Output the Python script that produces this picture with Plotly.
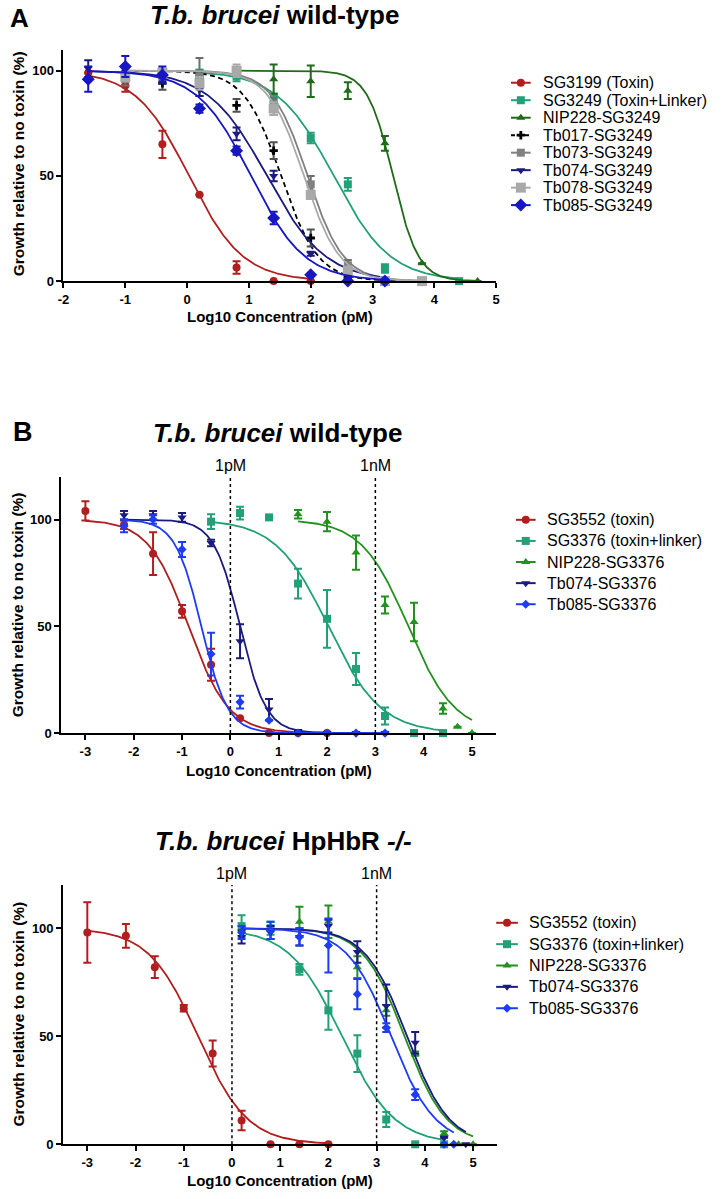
import numpy as np
import plotly.graph_objects as go

W, H = 728, 1199
FONT = "Liberation Sans, Arial, sans-serif"

# ---------------- Panel A : T.b. brucei wild-type (SG3249 series) ----------------
a_names = ["SG3199 (Toxin)", "SG3249 (Toxin+Linker)", "NIP228-SG3249", "Tb017-SG3249",
           "Tb073-SG3249", "Tb074-SG3249", "Tb078-SG3249", "Tb085-SG3249"]
a_sg3199_x = [-1.6, -1.0, -0.4, 0.2, 0.8, 1.4, 2.0]
a_sg3199_y = [99, 93, 65, 41, 6.5, 0, 0]
a_sg3199_e = [0, 3, 6.5, 0, 3, 0, 0]
a_sg3249_x = [0.2, 0.8, 1.4, 2.0, 2.6, 3.2, 3.8, 4.4]
a_sg3249_y = [99, 97.5, 87, 68, 46, 6, 0, 0]
a_sg3249_e = [1.5, 2.5, 2, 2.5, 3, 2, 0, 0]
a_nip228_x = [0.8, 1.4, 2.0, 2.6, 3.2, 3.8, 4.7]
a_nip228_y = [99, 96, 95, 90.5, 65.5, 8.5, 0]
a_nip228_e = [1, 7, 7.5, 4, 3.5, 0, 0]
a_tb017_x = [-1.0, -0.4, 0.2, 0.8, 1.4, 2.0, 2.6, 3.2, 3.8]
a_tb017_y = [97, 94, 96, 83.5, 62, 20.5, 2.5, 0, 0]
a_tb017_e = [2, 3, 3, 3, 4, 4, 1, 0, 0]
a_tb073_x = [-1.0, -0.4, 0.2, 0.8, 1.4, 2.0, 2.6, 3.2, 3.8]
a_tb073_y = [96, 98, 97, 99.5, 83, 46, 7.5, 0, 0]
a_tb073_e = [3, 2, 9, 2, 4, 4, 2.5, 0, 0]
a_tb074_x = [-1.6, -1.0, -0.4, 0.2, 0.8, 1.4, 2.0, 2.6, 3.2]
a_tb074_y = [101, 98, 97, 91, 70, 50, 13, 1, 0]
a_tb074_e = [4, 2, 2, 3, 3, 2.5, 1, 0, 0]
a_tb078_x = [-1.0, -0.4, 0.2, 0.8, 1.4, 2.0, 2.6, 3.2, 3.8]
a_tb078_y = [97, 99, 94, 100, 82, 41, 5, 0, 0]
a_tb078_e = [2, 2, 3, 3, 3, 2, 1.5, 0, 0]
a_tb085_x = [-1.6, -1.0, -0.4, 0.2, 0.8, 1.4, 2.0, 2.6, 3.2]
a_tb085_y = [96, 102, 98, 82, 62, 30, 3, 0, 0]
a_tb085_e = [6, 5, 4, 2, 2, 3, 0, 0, 0]
a_logec50 = [0.03, 2.37, 3.33, 1.52, 1.95, 1.29, 1.89, 1.03]
a_hill = [1.0, 0.95, 2.1, 1.45, 1.5, 0.92, 1.5, 1.0]

# ---------------- Panel B : T.b. brucei wild-type (SG3376 series) ----------------
b_names = ["SG3552 (toxin)", "SG3376 (toxin+linker)", "NIP228-SG3376",
           "Tb074-SG3376", "Tb085-SG3376"]
b_sg3552_x = [-3.0, -2.2, -1.6, -1.0, -0.4, 0.2, 0.8, 1.4, 2.0]
b_sg3552_y = [104, 97.5, 84, 57, 32, 7, 0, 0, 0]
b_sg3552_e = [4.5, 2, 10, 3, 7.5, 0, 0, 0, 0]
b_sg3376_x = [-0.4, 0.2, 0.8, 1.4, 2.0, 2.6, 3.2, 3.8, 4.4]
b_sg3376_y = [99, 103, 101, 70, 53.5, 30, 8, 0, 0]
b_sg3376_e = [3.5, 3, 0, 7, 13.5, 7.5, 4, 0, 0]
b_nip228_x = [1.4, 2.0, 2.6, 3.2, 3.8, 4.4, 4.7, 5.0]
b_nip228_y = [102.5, 99, 84.5, 60, 52, 11.5, 3, 0]
b_nip228_e = [2, 4.5, 8, 4, 9, 2.5, 0, 0]
b_tb074_x = [-2.2, -1.6, -1.0, -0.4, 0.2, 0.8, 1.4, 2.0, 2.6, 3.2]
b_tb074_y = [102, 102, 101, 89, 43, 11, 1, 0, 0, 0]
b_tb074_e = [2, 2, 2, 1.5, 8, 5, 0, 0, 0, 0]
b_tb085_x = [-2.2, -1.6, -1.0, -0.4, 0.2, 0.8, 1.4, 2.0, 2.6, 3.2]
b_tb085_y = [97, 100, 86, 37, 14.5, 6, 0, 0, 0, 0]
b_tb085_e = [3, 2, 3.5, 10, 3, 0, 0, 0, 0, 0]
b_logec50 = [-0.867, 2.025, 3.68, 0.2, -0.6]
b_hill = [1.05, 0.8, 0.9, 1.6, 1.6]

# ---------------- Panel C : T.b. brucei HpHbR -/- ----------------
c_names = b_names
c_sg3552_x = [-3.0, -2.2, -1.6, -1.0, -0.4, 0.2, 0.8, 1.4, 2.0]
c_sg3552_y = [98, 96.5, 82, 63, 42, 11, 0, 0, 0]
c_sg3552_e = [14, 5.5, 5, 1.5, 6, 4.5, 0, 0, 0]
c_sg3376_x = [0.2, 0.8, 1.4, 2.0, 2.6, 3.2, 3.8, 4.4]
c_sg3376_y = [101, 100, 81, 62, 42, 11.5, 0, 0]
c_sg3376_e = [5, 3, 2.5, 9, 8.5, 3.5, 0, 0]
c_nip228_x = [1.4, 2.0, 2.6, 3.2, 3.8, 4.4, 4.7, 5.0]
c_nip228_y = [103, 103, 82, 62, 42, 5, 0, 0]
c_nip228_e = [7, 7.5, 5, 2.5, 1, 1, 0, 0]
c_tb074_x = [0.2, 0.8, 1.4, 2.0, 2.6, 3.2, 3.8, 4.4, 4.85]
c_tb074_y = [96, 98, 96, 101, 89, 64, 47, 3, 0]
c_tb074_e = [3, 3, 4, 3, 5, 10, 5, 0, 0]
c_tb085_x = [0.2, 0.8, 1.4, 2.0, 2.6, 3.2, 3.8, 4.4, 4.6]
c_tb085_y = [98, 99, 96, 92, 69.5, 54, 23, 0, 0]
c_tb085_e = [3, 4, 4, 12.5, 7, 2, 2.5, 0, 0]
c_logec50 = [-0.706, 2.28, 3.58, 3.63, 3.3]
c_hill = [0.85, 0.8, 1.0, 1.0, 0.95]

x_ticks_a = [-2, -1, 0, 1, 2, 3, 4, 5]
x_ticks_bc = [-3, -2, -1, 0, 1, 2, 3, 4, 5]
y_ticks = [0, 50, 100]
ref_lines = [0, 3]
ref_labels = ["1pM", "1nM"]

# ---------------- styles ----------------
RED, TEAL, DKGREEN, GREEN = "#B01E1E", "#22A077", "#1F6B1A", "#23901F"
NAVY, BLUE_A, BLUE_B = "#1A1A80", "#1616C4", "#1E3CF5"
a_styles = [
    dict(color=RED, symbol="circle", size=8, ecolor=RED),
    dict(color=TEAL, symbol="square", size=8, ecolor=TEAL),
    dict(color=DKGREEN, symbol="triangle-up", size=8, ecolor=DKGREEN),
    dict(color="#000000", symbol="cross", size=7, ecolor="#505050", dash="5px,3.5px"),
    dict(color="#808080", symbol="square", size=8, ecolor="#6E6E6E"),
    dict(color=NAVY, symbol="triangle-down", size=8, ecolor=NAVY),
    dict(color="#A9A9A9", symbol="square", size=10, ecolor="#A9A9A9"),
    dict(color=BLUE_A, symbol="diamond", size=10, ecolor=BLUE_A),
]
bc_styles = [
    dict(color=RED, symbol="circle", size=8, ecolor=RED),
    dict(color=TEAL, symbol="square", size=8, ecolor=TEAL),
    dict(color=GREEN, symbol="triangle-up", size=8, ecolor=GREEN),
    dict(color=NAVY, symbol="triangle-down", size=8, ecolor=NAVY),
    dict(color=BLUE_B, symbol="diamond", size=7, ecolor=BLUE_B),
]

fig = go.Figure()


def add_panel(xa, ya, series, styles, ec50s, hills):
    for (x, y, e), st, c50, h in zip(series, styles, ec50s, hills):
        cx = np.linspace(min(x), max(x), 300)
        cy = 100.0 / (1.0 + 10.0 ** ((cx - c50) * h))
        fig.add_trace(go.Scatter(
            x=cx, y=cy, mode="lines", xaxis=xa, yaxis=ya, showlegend=False,
            hoverinfo="skip", cliponaxis=False,
            line=dict(color=st["color"], width=1.8, dash=st.get("dash", "solid"))))
        fig.add_trace(go.Scatter(
            x=x, y=y, mode="markers", xaxis=xa, yaxis=ya, showlegend=False,
            cliponaxis=False,
            marker=dict(symbol=st["symbol"], size=st["size"], color=st["color"],
                        line=dict(width=0)),
            error_y=dict(type="data", array=[v if v > 0 else None for v in e],
                         visible=True, thickness=2, width=4, color=st["ecolor"])))


add_panel("x", "y", [
    (a_sg3199_x, a_sg3199_y, a_sg3199_e), (a_sg3249_x, a_sg3249_y, a_sg3249_e),
    (a_nip228_x, a_nip228_y, a_nip228_e), (a_tb017_x, a_tb017_y, a_tb017_e),
    (a_tb073_x, a_tb073_y, a_tb073_e), (a_tb074_x, a_tb074_y, a_tb074_e),
    (a_tb078_x, a_tb078_y, a_tb078_e), (a_tb085_x, a_tb085_y, a_tb085_e)],
    a_styles, a_logec50, a_hill)
add_panel("x2", "y2", [
    (b_sg3552_x, b_sg3552_y, b_sg3552_e), (b_sg3376_x, b_sg3376_y, b_sg3376_e),
    (b_nip228_x, b_nip228_y, b_nip228_e), (b_tb074_x, b_tb074_y, b_tb074_e),
    (b_tb085_x, b_tb085_y, b_tb085_e)],
    bc_styles, b_logec50, b_hill)
add_panel("x3", "y3", [
    (c_sg3552_x, c_sg3552_y, c_sg3552_e), (c_sg3376_x, c_sg3376_y, c_sg3376_e),
    (c_nip228_x, c_nip228_y, c_nip228_e), (c_tb074_x, c_tb074_y, c_tb074_e),
    (c_tb085_x, c_tb085_y, c_tb085_e)],
    bc_styles, c_logec50, c_hill)

annotations = []


def px(xp):
    return xp / W


def py(yp):
    return 1 - yp / H


# ---- legends (keys drawn on a hidden pixel-space overlay axis) ----
def add_legend(names, styles, key_x0, key_x1, text_x, row0, step, fsize):
    for i, (name, st) in enumerate(zip(names, styles)):
        yrow = row0 + i * step
        fig.add_trace(go.Scatter(
            x=[key_x0, key_x1], y=[yrow, yrow], mode="lines", xaxis="x4", yaxis="y4",
            showlegend=False, hoverinfo="skip", cliponaxis=False,
            line=dict(color=st["color"], width=2,
                      dash="4px,3px" if st.get("dash") else "solid")))
        fig.add_trace(go.Scatter(
            x=[(key_x0 + key_x1) / 2], y=[yrow], mode="markers", xaxis="x4", yaxis="y4",
            showlegend=False, hoverinfo="skip", cliponaxis=False,
            marker=dict(symbol=st["symbol"], size=st["size"], color=st["color"],
                        line=dict(width=0))))
        annotations.append(dict(
            x=px(text_x), y=py(yrow), xref="paper", yref="paper", text=name,
            showarrow=False, xanchor="left", yanchor="middle",
            font=dict(family=FONT, size=fsize, color="black")))


add_legend(a_names, a_styles, 512, 532, 542, 83.3, 17.6, 16)
add_legend(b_names, bc_styles, 517, 537, 547, 523.3, 21.25, 16)
add_legend(c_names, bc_styles, 497, 519, 528, 929, 21.5, 16)

# ---- panel letters, titles, axis titles ----
annotations += [
    dict(x=px(14), y=py(18), text="<b>A</b>", font=dict(size=26)),
    dict(x=px(17.5), y=py(435), text="<b>B</b>", font=dict(size=27)),
    dict(x=px(144), y=py(15), xanchor="left",
         text="<b><i>T.b. brucei</i> wild-type</b>", font=dict(size=26)),
    dict(x=px(147), y=py(436), xanchor="left",
         text="<b><i>T.b. brucei</i> wild-type</b>", font=dict(size=26)),
    dict(x=px(149), y=py(847), xanchor="left",
         text="<b><i>T.b. brucei</i> HpHbR <i>-/-</i></b>", font=dict(size=26)),
]
for xc, yc in [(13.5, 165), (12.5, 609), (12.5, 1021)]:
    annotations.append(dict(x=px(xc), y=py(yc), text="<b>Growth relative to no toxin (%)</b>",
                            textangle=-90, font=dict(size=15.5)))
for xc, yc in [(277.6, 319), (276.5, 776), (278, 1188)]:
    annotations.append(dict(x=px(xc), y=py(yc), text="<b>Log10 Concentration (pM)</b>",
                            font=dict(size=15)))

for a in annotations:
    a.setdefault("xref", "paper")
    a.setdefault("yref", "paper")
    a.setdefault("showarrow", False)
    a.setdefault("xanchor", "center")
    a.setdefault("yanchor", "middle")
    f = a.setdefault("font", {})
    f.setdefault("family", FONT)
    f.setdefault("color", "black")

# reference lines (1 pM, 1 nM) in panels B and C
shapes = []
for xa, ya in [("x2", "y2"), ("x3", "y3")]:
    for xv, lab in zip(ref_lines, ref_labels):
        shapes.append(dict(type="line", xref=xa, yref=ya, x0=xv, x1=xv, y0=0, y1=120,
                           line=dict(color="black", width=1.5, dash="dot")))
        annotations.append(dict(x=xv, y=120, xref=xa, yref=ya, text=lab, showarrow=False,
                                xanchor="center", yanchor="bottom", yshift=1,
                                font=dict(family=FONT, size=16, color="black")))

tickfont = dict(family=FONT, size=13, color="black", weight="bold")


def xaxis(domain, rng, ticks, anchor):
    return dict(domain=domain, range=rng, tickvals=ticks, ticktext=[str(t) for t in ticks],
                showline=True, linecolor="black", linewidth=2, ticks="outside", ticklen=5,
                tickwidth=2, tickcolor="black", showgrid=False, zeroline=False,
                tickfont=tickfont, anchor=anchor, fixedrange=True)


def yaxis(domain, rng, anchor):
    return dict(domain=domain, range=rng, tickvals=y_ticks, ticktext=[str(t) for t in y_ticks],
                showline=True, linecolor="black", linewidth=2, ticks="outside", ticklen=5,
                tickwidth=2, tickcolor="black", showgrid=False, zeroline=False,
                tickfont=tickfont, anchor=anchor, fixedrange=True)


fig.update_layout(
    width=W, height=H, margin=dict(l=0, r=0, t=0, b=0),
    paper_bgcolor="white", plot_bgcolor="rgba(0,0,0,0)", showlegend=False,
    xaxis=xaxis([58.3 / W, 497 / W], [-2, 5], x_ticks_a, "y"),
    yaxis=yaxis([1 - 283 / H, 1 - 50 / H], [0, 110], "x"),
    xaxis2=xaxis([56 / W, 497 / W], [-3.5, 5.5], x_ticks_bc, "y2"),
    yaxis2=yaxis([1 - 738 / H, 1 - 480 / H], [0, 120], "x2"),
    xaxis3=xaxis([58 / W, 498 / W], [-3.5, 5.5], x_ticks_bc, "y3"),
    yaxis3=yaxis([1 - 1152 / H, 1 - 891 / H], [0, 120], "x3"),
    xaxis4=dict(domain=[0, 1], range=[0, W], visible=False, anchor="y4", fixedrange=True),
    yaxis4=dict(domain=[0, 1], range=[H, 0], visible=False, anchor="x4", fixedrange=True),
    annotations=annotations, shapes=shapes,
)

fig.write_html("out.html", config={"displayModeBar": False},
               post_script="document.body.style.margin='0px';")
